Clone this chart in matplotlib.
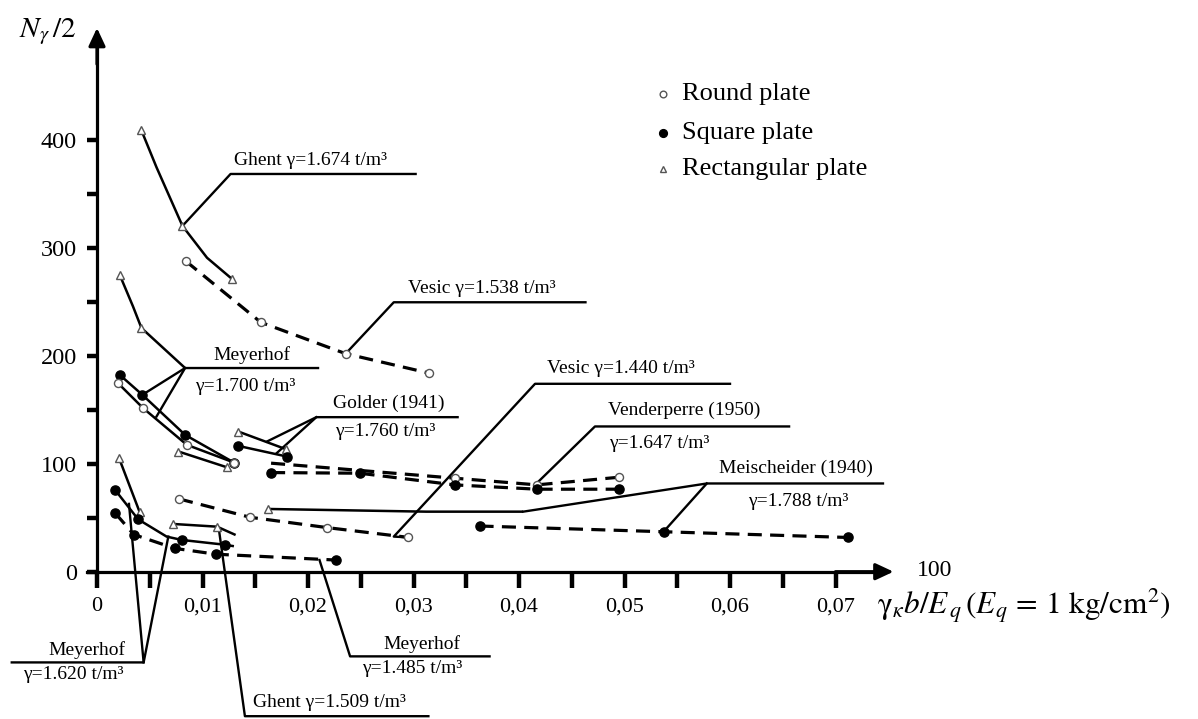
import matplotlib
matplotlib.use("Agg")
import matplotlib.pyplot as plt

plt.rcParams["font.family"] = ["Liberation Serif", "DejaVu Serif"]
plt.rcParams["mathtext.fontset"] = "stix"

# ---------------- data (x = gamma_k*b/Eq, y = N_gamma/2) ----------------
# Ghent, gamma = 1.674 t/m3, rectangular plate
ghent1674_x = [0.00421, 0.00564, 0.0081, 0.01043, 0.01276]
ghent1674_y = [408.7, 374.5, 320.2, 290.7, 271.4]
ghent1674_marks = [0, 2, 4]

# Vesic, gamma = 1.538 t/m3, round plate
vesic1538_x = [0.00842, 0.01553, 0.02357, 0.03147]
vesic1538_y = [287.6, 230.9, 201.9, 183.9]

# Meyerhof, gamma = 1.700 t/m3
meyer1700_rect_x = [0.00214, 0.00341, 0.00421, 0.00835]
meyer1700_rect_y = [275.2, 245.7, 225.7, 188.6]
meyer1700_rect_marks = [0, 2]
meyer1700_sq_x = [0.00214, 0.0043, 0.00835, 0.01298]
meyer1700_sq_y = [182.4, 163.8, 126.7, 101.1]
meyer1700_rnd_x = [0.00198, 0.00437, 0.00851, 0.01298]
meyer1700_rnd_y = [174.7, 151.5, 117.5, 101.1]
meyer1700_rect2_x = [0.00772, 0.01228]
meyer1700_rect2_y = [111.3, 96.8]

# Golder (1941), gamma = 1.760 t/m3
golder_rect_x = [0.01339, 0.01792]
golder_rect_y = [129.8, 113.4]
golder_sq_x = [0.01339, 0.01802]
golder_sq_y = [116.5, 106.6]

# Vesic, gamma = 1.440 t/m3, round plate
vesic1440_x = [0.00778, 0.01451, 0.02184, 0.0295]
vesic1440_y = [67.4, 50.4, 40.8, 31.8]

# Venderperre (1950), gamma = 1.647 t/m3
vender_rnd_x = [0.0165, 0.0339, 0.0417, 0.0495]
vender_rnd_y = [100.5, 86.6, 80.4, 87.5]
vender_rnd_marks = [1, 2, 3]
vender_sq_x = [0.0165, 0.0249, 0.0339, 0.0417, 0.0495]
vender_sq_y = [91.8, 91.2, 80.4, 76.4, 76.4]

# Meischeider (1940), gamma = 1.788 t/m3
meisch_rect_x = [0.01617, 0.0312, 0.0404]
meisch_rect_y = [58.1, 55.6, 55.6]
meisch_rect_marks = [0]
meisch_sq_x = [0.03626, 0.0537, 0.0712]
meisch_sq_y = [42.3, 37.0, 31.7]

# Meyerhof, gamma = 1.620 t/m3
meyer1620_rect_x = [0.00207, 0.00405]
meyer1620_rect_y = [105.7, 55.0]
meyer1620_sq_x = [0.00174, 0.0039, 0.0066, 0.00804, 0.01209, 0.01298]
meyer1620_sq_y = [75.4, 48.5, 32.5, 29.4, 25.0, 23.6]
meyer1620_sq_marks = [0, 1, 3, 4]

# Ghent, gamma = 1.509 t/m3, rectangular plate
ghent1509_x = [0.00724, 0.01138, 0.01314]
ghent1509_y = [44.2, 41.7, 34.0]
ghent1509_marks = [0, 1]

# Meyerhof, gamma = 1.485 t/m3, square plate
meyer1485_x = [0.00174, 0.00349, 0.00737, 0.01127, 0.02264]
meyer1485_y = [54.1, 34.4, 21.6, 16.2, 10.8]

# axis ticks
x_major = [0, 0.01, 0.02, 0.03, 0.04, 0.05, 0.06, 0.07]
x_major_labels = ["0", "0,01", "0,02", "0,03", "0,04", "0,05", "0,06", "0,07"]
x_minor = [0.005, 0.015, 0.025, 0.035, 0.045, 0.055, 0.065]
y_major = [0, 100, 200, 300, 400]
y_major_labels = ["0", "100", "200", "300", "400"]
y_minor = [50, 150, 250, 350]

legend_labels = ["Round plate", "Square plate", "Rectangular plate"]

# ---------------- styles ----------------
PLATE = {
    "round": dict(marker="o", mfc="white", mec="#555555", ms=5.8, mew=1.0),
    "square": dict(marker="o", mfc="black", mec="black", ms=6.6, mew=1.0),
    "rect": dict(marker="^", mfc="white", mec="#555555", ms=6.0, mew=1.0),
}

series = [
    (ghent1674_x, ghent1674_y, ghent1674_marks, "rect", False),
    (vesic1538_x, vesic1538_y, None, "round", True),
    (meyer1700_rect_x, meyer1700_rect_y, meyer1700_rect_marks, "rect", False),
    (meyer1700_sq_x, meyer1700_sq_y, None, "square", False),
    (meyer1700_rnd_x, meyer1700_rnd_y, None, "round", False),
    (meyer1700_rect2_x, meyer1700_rect2_y, None, "rect", False),
    (golder_rect_x, golder_rect_y, None, "rect", False),
    (golder_sq_x, golder_sq_y, None, "square", False),
    (vesic1440_x, vesic1440_y, None, "round", True),
    (vender_rnd_x, vender_rnd_y, vender_rnd_marks, "round", True),
    (vender_sq_x, vender_sq_y, None, "square", True),
    (meisch_rect_x, meisch_rect_y, meisch_rect_marks, "rect", False),
    (meisch_sq_x, meisch_sq_y, None, "square", True),
    (meyer1620_rect_x, meyer1620_rect_y, None, "rect", False),
    (meyer1620_sq_x, meyer1620_sq_y, meyer1620_sq_marks, "square", False),
    (ghent1509_x, ghent1509_y, ghent1509_marks, "rect", False),
    (meyer1485_x, meyer1485_y, None, "square", True),
]

# leader lines from the curves to their captions
leaders = [
    [(0.0081, 320.2), (0.01266, 368.3), (0.0302, 368.3)],
    [(0.02357, 201.9), (0.02813, 249.5), (0.0463, 249.5)],
    [(0.02095, 188.6), (0.00835, 188.6), (0.0043, 163.8)],
    [(0.00835, 188.6), (0.00564, 143.7)],
    [(0.0170, 109.5), (0.02079, 143.1), (0.03418, 143.1)],
    [(0.01610, 120.5), (0.02079, 143.1)],
    [(0.0295, 31.8), (0.02813, 32.5), (0.04152, 174.0), (0.0600, 174.0)],
    [(0.04168, 81.9), (0.0472, 134.5), (0.0656, 134.5)],
    [(0.0404, 55.6), (0.0578, 81.7), (0.0745, 81.7)],
    [(0.0537, 37.0), (0.0578, 81.7)],
    [(0.00303, 62.8), (0.00442, -84.0), (-0.00808, -84.0)],
    [(0.00676, 32.5), (0.00442, -84.0)],
    [(0.01154, 40.2), (0.01402, -133.8), (0.03141, -133.8)],
    [(0.02109, 10.8), (0.02399, -78.4), (0.03721, -78.4)],
]

captions = [
    (0.01298, 380.7, "Ghent \u03b3=1.674 t/m\u00b3", "left"),
    (0.0295, 262.7, "Vesic \u03b3=1.538 t/m\u00b3", "left"),
    (0.01466, 200.9, "Meyerhof", "center"),
    (0.0141, 171.6, "\u03b3=1.700 t/m\u00b3", "center"),
    (0.02238, 156.1, "Golder (1941)", "left"),
    (0.02254, 129.8, "\u03b3=1.760 t/m\u00b3", "left"),
    (0.04263, 188.6, "Vesic \u03b3=1.440 t/m\u00b3", "left"),
    (0.0484, 149.0, "Venderperre (1950)", "left"),
    (0.0485, 119.0, "\u03b3=1.647 t/m\u00b3", "left"),
    (0.0590, 95.4, "Meischeider (1940)", "left"),
    (0.0617, 64.6, "\u03b3=1.788 t/m\u00b3", "left"),
    (-0.00092, -72.3, "Meyerhof", "center"),
    (-0.00228, -95.3, "\u03b3=1.620 t/m\u00b3", "center"),
    (0.01475, -121.5, "Ghent \u03b3=1.509 t/m\u00b3", "left"),
    (0.03078, -66.7, "Meyerhof", "center"),
    (0.02987, -89.2, "\u03b3=1.485 t/m\u00b3", "center"),
]

# ---------------- figure ----------------
fig = plt.figure(figsize=(11.98, 7.19), dpi=100)
ax = fig.add_axes([0, 0, 1, 1])
ax.set_xlim(-0.0091943, 0.104360)
ax.set_ylim(-136.4, 529.4)
ax.patch.set_visible(False)

for s in ["top", "right"]:
    ax.spines[s].set_visible(False)
ax.spines["left"].set_position(("data", 0))
ax.spines["bottom"].set_position(("data", 0))
ax.spines["left"].set_bounds(0, 495)
ax.spines["bottom"].set_bounds(-0.00095, 0.074)
ax.spines["left"].set_linewidth(2.3)
ax.spines["bottom"].set_linewidth(2.3)

ax.set_xticks(x_major)
ax.set_xticklabels(x_major_labels, fontsize=16)
ax.set_xticks(x_minor, minor=True)
ax.set_yticks(y_major)
ax.set_yticklabels(y_major_labels, fontsize=17.5)
ax.set_yticks(y_minor, minor=True)
ax.tick_params(axis="x", which="both", direction="out", length=11.5, width=3.2, pad=7)
ax.tick_params(axis="y", which="both", direction="out", length=7.5, width=3.2, pad=7)

# arrow heads on the axes
head = dict(arrowstyle="-|>,head_length=0.9,head_width=0.42", lw=2.3, color="black",
            mutation_scale=12, shrinkA=0, shrinkB=0)
ax.annotate("", xy=(0, 503.5), xytext=(0, 470), arrowprops=head)
ax.annotate("", xy=(0.0755, 0), xytext=(0.070, 0), arrowprops=head)

# curves
for xs, ys, marks, plate, dashed in series:
    ax.plot(xs, ys, color="black", lw=2.3 if dashed else 1.8,
            linestyle=(0, (4.4, 2.6)) if dashed else "-", zorder=2,
            solid_capstyle="butt", dash_capstyle="butt")
    idx = range(len(xs)) if marks is None else marks
    ax.plot([xs[i] for i in idx], [ys[i] for i in idx], linestyle="none",
            zorder=3, **PLATE[plate])

# leader lines and captions
for pts in leaders:
    ax.plot([p[0] for p in pts], [p[1] for p in pts], color="black", lw=1.7,
            zorder=2, clip_on=False)
for x, y, txt, ha in captions:
    ax.text(x, y, txt, fontsize=14, ha=ha, va="center")

# legend
legend_y = [442.1, 406.6, 373.2]
for lab, ly, plate in zip(legend_labels, legend_y, ["round", "square", "rect"]):
    style = dict(PLATE[plate])
    style["ms"] = style["ms"] - 1.0
    ax.plot([0.05368], [ly], linestyle="none", **style)
    ax.text(0.05542, ly, lab, fontsize=19, ha="left", va="center")

# axis titles
ax.text(-0.0074, 499.7, r"$N_{\gamma}\,/2$", fontsize=21, ha="left", va="center")
ax.text(0.0794, 1.5, "100", fontsize=17, ha="center", va="center")
ax.text(0.0739, -32.0,
        r"$\mathrm{\gamma}_{\kappa}b/E_{\,q}\,(E_q\,=\,1\ \mathrm{kg/cm^2})$",
        fontsize=22.5, ha="left", va="center")

fig.savefig("out.png", dpi=100)
